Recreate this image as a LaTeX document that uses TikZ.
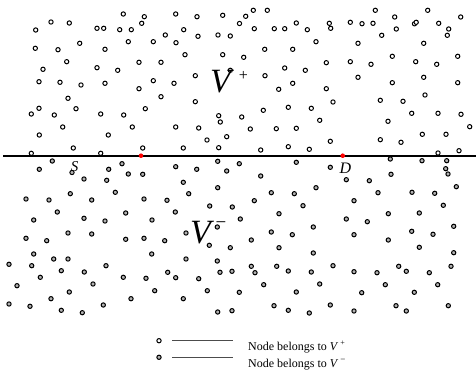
\documentclass[tikz,border=0pt]{standalone}
\usepackage{fontspec}
\setmainfont{Liberation Serif}
\begin{document}
\begin{tikzpicture}[x=1pt,y=-1pt,
  updot/.style={circle,draw=black,fill=white,line width=1pt,inner sep=0pt,minimum size=4.3pt},
  lowdot/.style={circle,draw=black,fill=gray!60,line width=1pt,inner sep=0pt,minimum size=4.3pt},
  reddot/.style={circle,fill=red,inner sep=0pt,minimum size=4.6pt},
  lbl/.style={inner sep=0pt,font=\itshape},
  legline/.style={draw=black!70,line width=0.8pt}]
\useasboundingbox (0,0) rectangle (476,382);
% upper dots
\foreach \x/\y [count=\i] in {35.7/30, 51/22, 69.3/23, 97/28.3, 103.7/28.3, 123.3/14, 144.3/16.7, 141.7/23.3, 119.7/29.7, 131.3/29.7, 175.7/14, 197/16.7, 222.7/15.3, 239.5/23.5, 183.7/29.7, 165.3/35, 198/36.3, 218/35, 230.3/36, 35.3/48.3, 58/49.7, 79.7/43.3, 105/49.3, 128.3/41.7, 153.3/41.7, 176/42.7, 185/54.7, 222.7/54.7, 66.7/61.7, 43/69.3, 97/67.7, 117.7/70.3, 139/62.3, 161/62.3, 195.3/75.7, 230.3/70.3, 39/81.7, 60/82.3, 81/85, 105/83.3, 139/88.7, 153.3/80.7, 174/83.3, 161/96.7, 195.3/101.7, 68/98.3, 39/108.3, 31.3/114, 54.3/115, 76/108.7, 100.7/114, 123.7/115, 145.3/108.7, 218.7/115.7, 220.3/122, 62.7/127, 108.3/135, 132.3/127, 175.7/127, 198.7/128, 207/140, 226.7/136.7, 39.3/135, 73.3/148, 142.7/148, 183.3/148, 218.7/147.7, 31.3/153.3, 100.7/153.3,
253.3/10.3, 267.3/10.3, 245.7/16.3, 254.3/28.7, 274.3/28.7, 284.7/28.7, 296.3/23, 307.3/29.7, 329.3/23.3, 330.7/28.3, 350.3/22.3, 362/23.7, 373/23.3, 375.3/10.3, 394.7/17, 396.3/29, 381.7/35.3, 414.5/23.8, 416.2/22.3, 427.7/10.3, 438.7/23.3, 448.7/29, 447.3/35.3, 460.7/17, 316/41.7, 358/43.3, 423.7/43.3, 264.7/49.3, 292.7/49.3, 243.7/57.3, 284.7/68, 305.3/70.3, 326.3/62.7, 350.3/61.7, 371/64.3, 392.3/56.3, 415.7/61.7, 436.7/64.3, 457.7/56.3, 265/75.7, 358/77.3, 423.7/77.3, 278.7/89.3, 292.7/83.3, 326.3/88.7, 392.3/82.7, 457.7/82.7, 425/95, 333/102, 380.3/100.3, 403/101.3, 263.3/110.3, 288.3/107.3, 311.3/108.3, 241.7/117, 411.7/113.3, 438/113.3, 461/114.3, 319.7/120.3, 388/121.3, 469.7/126.7, 250.3/129, 276.3/128.7, 296.3/128.3, 422.3/134.3, 446/134.3, 380.3/139.7, 401/142.3, 330.3/141.3, 260.7/150, 288.3/146.7, 309.3/149.3, 438/153, 459/150.7}
  \node[updot] (u\i) at (\x,\y) {};
% lower dots
\foreach \x/\y [count=\i] in {52.3/161, 39.3/169.3, 72/172.5, 84/179, 108.7/169.3, 122/163.7, 128.3/174, 142.7/174.3, 106.7/180.3, 175.7/166.7, 196.7/169.3, 217.7/161.3, 226.7/171, 239.3/163.7, 183.3/182.3, 217.7/187.7, 115.3/192.3, 70.3/193.7, 26/199, 49/200, 91.7/200, 144/199, 167/200.3, 188.7/193.7, 57.3/212, 84/218.3, 33.7/220, 105/221, 125.7/213, 152/220, 175.3/212, 209.7/206, 232.3/207, 240.3/219, 26/238.3, 46.7/240.7, 68/233, 91.7/234, 125.7/239.3, 144/238.3, 164.7/240.7, 186/233, 217.3/227, 209.3/245.3, 230.3/247.7, 33.7/254, 53.7/259, 68/259, 151.7/254, 186/259, 217.3/261, 9/264.3, 31.7/265.7, 106/265.7, 61.3/270.7, 84.3/272, 40.3/277.3, 123.3/277.3, 146/278.3, 167.7/272.3, 175.7/277.7, 198.7/278.7, 220/272.3, 232/271.3, 17/285.7, 93/284, 69.3/292, 154.7/290.7, 207.3/290.7, 239.3/292.3, 51/298.7, 131/298.7, 183.3/298.7, 9/304, 30/306.3, 103.3/305, 61.3/310.3, 82.3/312.7, 217.7/312, 232/310.7,
296.3/162.3, 330.3/167.3, 390.3/159, 422/160.7, 446.7/160.7, 445.7/168.7, 448/174, 391/174.3, 260.7/176, 346.3/179.7, 369.3/180.7, 456.3/186.7, 316/187.7, 271.3/192.7, 294.3/193.7, 378/192.7, 412/192.3, 434.7/193.3, 254.3/200.7, 354/200.7, 303/205.7, 443.3/205.3, 279/213.7, 388.3/213.7, 419.3/213, 346.3/219, 367.3/221.7, 313.3/227, 271.3/232, 292.3/234.7, 411.7/231.3, 433/234.3, 453.7/226.3, 251.3/240, 354/234.7, 388.3/240, 279/247.7, 419.3/247.3, 453.7/252.7, 313.3/253, 251.3/266.3, 255/272.7, 276.7/266.3, 288.3/271, 311.3/272, 333/265.7, 354/271.7, 377/272.7, 398.7/266.3, 406.3/271.3, 429.3/272.7, 451/266.3, 263.7/284.7, 319.7/284, 385.3/284.7, 437.7/284.7, 296.3/292, 361.7/292.7, 414.3/292.3, 274/305.7, 288.3/310.3, 309.3/313, 330.3/305, 354/311, 396/305.7, 406.3/311, 448.3/305.7}
  \node[lowdot] (l\i) at (\x,\y) {};
% dividing line
\coordinate (lineL) at (3.3,155.7);
\coordinate (lineR) at (476,155.7);
\draw[line width=1.7pt] (lineL) -- (lineR);
\node[reddot] (S) at (141,155.7) {};
\node[reddot] (D) at (342.7,155.7) {};
% labels
\node[lbl,font=\fontsize{34}{40}\selectfont\itshape,anchor=base west] (Vp) at (210,93) {V};
\node[inner sep=0pt,font=\fontsize{16}{18}\selectfont] (Vpsup) at (243.5,76) {+};
\node[lbl,font=\fontsize{34}{40}\selectfont\itshape,anchor=base west] (Vm) at (190,243.7) {V};
\node[inner sep=0pt,font=\fontsize{19}{22}\selectfont] (Vmsup) at (221,224.7) {−};
\node[lbl,font=\fontsize{15}{18}\selectfont\itshape,anchor=base] (Slbl) at (74.5,171.7) {S};
\node[lbl,font=\fontsize{16}{18}\selectfont\itshape,anchor=base] (Dlbl) at (345.5,174) {D};
% legend
\node[updot] (k1) at (159,340.7) {};
\node[lowdot] (k2) at (159,357.3) {};
\coordinate (a1) at (172.3,340.7);
\coordinate (b1) at (232.7,340.7);
\coordinate (a2) at (172.3,357.3);
\coordinate (b2) at (232.7,357.3);
\draw[legline] (a1) -- (b1);
\draw[legline] (a2) -- (b2);
\node[inner sep=0pt,anchor=base west,font=\fontsize{12}{14}\selectfont] (t1) at (248,350.7) {Node belongs to \textit{V}\,\raisebox{0.45em}{\fontsize{8}{9}\selectfont +}};
\node[inner sep=0pt,anchor=base west,font=\fontsize{12}{14}\selectfont] (t2) at (248,367.5) {Node belongs to \textit{V}\,\raisebox{0.45em}{\fontsize{9}{9}\selectfont −}};
\end{tikzpicture}
\end{document}
